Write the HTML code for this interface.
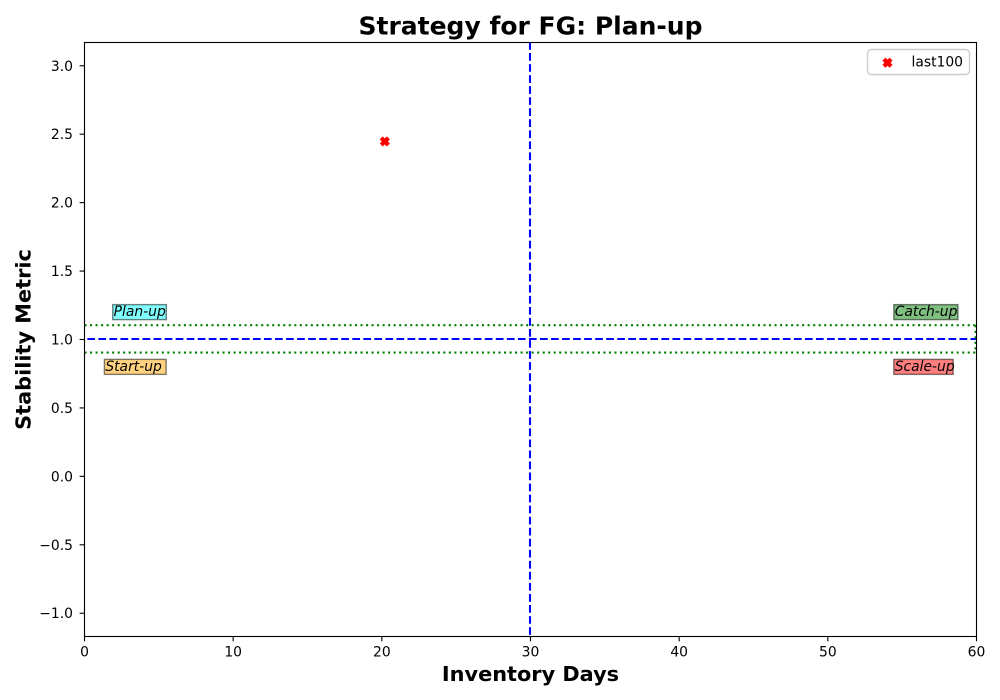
<!DOCTYPE html>
<html lang="en">
<head>
<meta charset="utf-8">
<title>Strategy for FG: Plan-up</title>
<style>
html,body{margin:0;padding:0;background:#fff}
svg{display:block}
text{font-family:"DejaVu Sans","Liberation Sans",sans-serif;fill:#000}
</style>
</head>
<body>
<svg id="chart" xmlns="http://www.w3.org/2000/svg" width="1000" height="700" viewBox="0 0 1000 700"></svg>
<script>
const xTicks = [0, 10, 20, 30, 40, 50, 60];
const yTicks = [-1.0, -0.5, 0.0, 0.5, 1.0, 1.5, 2.0, 2.5, 3.0];
const xDomain = [0, 60];
const yDomain = [-1.17, 3.17];
const pointX = [20.2];
const pointY = [2.447];
const seriesName = 'last100';
const centerX = [30];
const centerY = [1.0];
const bandY = [0.9, 1.1];
const bandEdgeX = [60];
const quadrantNames = ['Plan-up', 'Start-up', 'Catch-up', 'Scale-up'];
const quadrantX = [1.96, 1.4, 54.5, 54.5];
const quadrantY = [1.2, 0.8, 1.2, 0.8];
const quadrantFills = ['#00ffff', '#ffa500', '#008000', '#ff0000'];
const quadrantBoxExtra = [0, 3.8, 0, -2];

const NS = 'http://www.w3.org/2000/svg';
const svg = document.getElementById('chart');
const L = 84.5, R = 976.5, T = 42.5, B = 636.5;
const MARKER = 'M-2.05,-4.1 L0,-2.05 L2.05,-4.1 L4.1,-2.05 L2.05,0 L4.1,2.05 L2.05,4.1 L0,2.05 L-2.05,4.1 L-4.1,2.05 L-2.05,0 L-4.1,-2.05 Z';
function sx(v) { return L + (v - xDomain[0]) / (xDomain[1] - xDomain[0]) * (R - L); }
function sy(v) { return B - (v - yDomain[0]) / (yDomain[1] - yDomain[0]) * (B - T); }
function make(tag, attrs, text) {
  const el = document.createElementNS(NS, tag);
  for (const k in attrs) el.setAttribute(k, attrs[k]);
  if (text !== undefined) el.textContent = text;
  svg.appendChild(el);
  return el;
}
function fmt(v) {
  return (v < 0 ? '\u2212' : '') + Math.abs(v).toFixed(1);
}
let el;

el = make('rect', {x: 0, y: 0, width: 1000, height: 700, fill: '#fff'});



centerX.forEach(function (v) {
  const line = make('line', {x1: sx(v) - 0.5, x2: sx(v) - 0.5, y1: T, y2: B, stroke: '#0000ff', 'stroke-width': 2.08, 'stroke-dasharray': '7.7 3.34', 'stroke-dashoffset': 0.5});
  
  
});
centerY.forEach(function (v) {
  const line = make('line', {x1: L, x2: R, y1: sy(v) - 0.5, y2: sy(v) - 0.5, stroke: '#0000ff', 'stroke-width': 2.08, 'stroke-dasharray': '7.7 3.34', 'stroke-dashoffset': 8.2});
  
  
});
bandY.forEach(function (v) {
  const line = make('line', {x1: L, x2: R, y1: sy(v) - 0.6, y2: sy(v) - 0.6, stroke: '#008000', 'stroke-width': 2.08, 'stroke-dasharray': '2.08 3.44'});
  
  
});
bandEdgeX.forEach(function (v) {
  const line = make('line', {x1: sx(v) - 1, x2: sx(v) - 1, y1: sy(bandY[1]) - 0.6, y2: sy(bandY[0]) - 0.6, stroke: '#008000', 'stroke-width': 2.08, 'stroke-dasharray': '2.08 3.44'});
  
  
});

pointX.forEach(function (v, i) {
  const px = sx(v), py = sy(pointY[i]);
  const mark = make('path', {d: MARKER, transform: 'translate(' + px + ',' + py + ')', fill: '#ff0000', stroke: '#ff0000', 'stroke-width': 1.4});
  
  
});

quadrantNames.forEach(function (name, i) {
  const px = sx(quadrantX[i]), py = sy(quadrantY[i]);
  const label = make('text', {x: px, y: py + 4, 'font-size': 13.89, 'font-style': 'italic', 'text-anchor': 'start'}, name);
  
  
  const w = label.getComputedTextLength();
  const box = make('rect', {x: px - 0.9, y: py - 7.5, width: w + 1.4 + quadrantBoxExtra[i], height: 15, fill: quadrantFills[i], 'fill-opacity': 0.5, stroke: '#000', 'stroke-opacity': 0.5, 'stroke-width': 1.39});
  
  
  svg.insertBefore(box, label);
});

el = make('rect', {x: L, y: T, width: R - L, height: B - T, fill: 'none', stroke: '#000', 'stroke-width': 1.11});



xTicks.forEach(function (v) {
  const tick = make('line', {x1: sx(v), x2: sx(v), y1: B, y2: B + 4.86, stroke: '#000', 'stroke-width': 1.11});
  
  
  const label = make('text', {x: sx(v), y: B + 20, 'font-size': 13.89, 'text-anchor': 'middle'}, String(v));
  
  
});
yTicks.forEach(function (v) {
  const tick = make('line', {x1: L - 4.86, x2: L, y1: sy(v), y2: sy(v), stroke: '#000', 'stroke-width': 1.11});
  
  
  const label = make('text', {x: L - 11.5, y: sy(v) + 5, 'font-size': 13.89, 'text-anchor': 'end'}, fmt(v));
  
  
});

el = make('text', {x: 530.5, y: 34.3, 'font-size': 25, 'font-weight': 'bold', 'text-anchor': 'middle'}, 'Strategy for FG: Plan-up');



el = make('text', {x: 530.5, y: 681.2, 'font-size': 20.83, 'font-weight': 'bold', 'text-anchor': 'middle'}, 'Inventory Days');



el = make('text', {x: 0, y: 0, transform: 'translate(30.5,339.5) rotate(-90)', 'font-size': 20.83, 'font-weight': 'bold', 'text-anchor': 'middle'}, 'Stability Metric');



el = make('rect', {x: 867.5, y: 49.5, width: 102, height: 25, rx: 4, ry: 4, fill: '#fff', 'fill-opacity': 0.8, stroke: '#cccccc', 'stroke-width': 1.39});



el = make('path', {d: MARKER, transform: 'translate(887.5,62.7)', fill: '#ff0000', stroke: '#ff0000', 'stroke-width': 1.4});



el = make('text', {x: 911.5, y: 66.5, 'font-size': 13.89}, seriesName);


</script>
</body>
</html>
